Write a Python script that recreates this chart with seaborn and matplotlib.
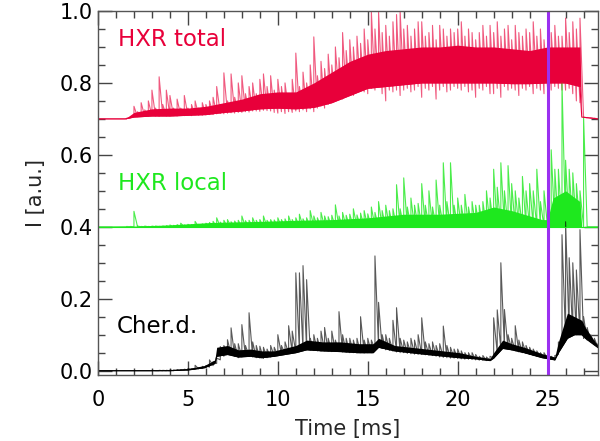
import numpy as np
import seaborn as sns
import matplotlib.pyplot as plt
from matplotlib.ticker import MultipleLocator

# Tiempos de los bins (0.2 ms) en los que se leen máximos/mínimos de cada señal
t_bins = np.round(np.arange(0, 27.81, 0.2), 1)

# HXR total: máximos y mínimos por bin
tot_max = [0.700, 0.700, 0.700, 0.700, 0.700, 0.700, 0.700, 0.700, 0.702, 0.705,
           0.735, 0.720, 0.745, 0.725, 0.750, 0.780, 0.730, 0.817, 0.740, 0.780,
           0.765, 0.730, 0.755, 0.730, 0.765, 0.730, 0.740, 0.750, 0.730, 0.745,
           0.740, 0.750, 0.760, 0.790, 0.740, 0.828, 0.750, 0.825, 0.760, 0.800,
           0.820, 0.770, 0.790, 0.800, 0.770, 0.810, 0.825, 0.790, 0.820, 0.780,
           0.810, 0.790, 0.800, 0.770, 0.810, 0.883, 0.790, 0.830, 0.800, 0.850,
           0.928, 0.820, 0.860, 0.840, 0.880, 0.850, 0.900, 0.870, 0.940, 0.890,
           0.920, 0.900, 0.930, 0.910, 0.950, 0.920, 1.000, 0.950, 1.000, 0.940,
           0.960, 0.930, 0.970, 0.990, 1.000, 0.950, 0.960, 0.930, 0.950, 0.970,
           0.970, 0.930, 0.940, 0.960, 0.920, 0.960, 0.950, 0.930, 0.950, 0.940,
           0.950, 0.970, 0.930, 0.950, 0.940, 0.920, 0.940, 0.960, 0.930, 0.960,
           0.940, 0.970, 0.930, 0.950, 0.960, 0.920, 0.960, 0.940, 0.930, 0.950,
           0.940, 0.970, 0.930, 0.950, 0.920, 0.960, 0.940, 0.960, 0.930, 0.930,
           0.980, 0.940, 0.970, 0.950, 0.980, 0.705, 0.704, 0.703, 0.702, 0.700]
tot_min = [0.700, 0.700, 0.700, 0.700, 0.700, 0.700, 0.700, 0.700, 0.700, 0.703,
           0.708, 0.706, 0.708, 0.707, 0.708, 0.709, 0.708, 0.707, 0.709, 0.708,
           0.708, 0.709, 0.708, 0.710, 0.709, 0.710, 0.709, 0.711, 0.710, 0.710,
           0.711, 0.712, 0.712, 0.714, 0.715, 0.714, 0.716, 0.717, 0.716, 0.718,
           0.718, 0.720, 0.719, 0.722, 0.722, 0.721, 0.724, 0.723, 0.722, 0.718,
           0.716, 0.720, 0.715, 0.720, 0.718, 0.722, 0.720, 0.725, 0.720, 0.728,
           0.720, 0.730, 0.735, 0.730, 0.740, 0.745, 0.750, 0.760, 0.755, 0.765,
           0.770, 0.765, 0.775, 0.780, 0.775, 0.770, 0.785, 0.780, 0.790, 0.770,
           0.750, 0.780, 0.775, 0.780, 0.765, 0.780, 0.785, 0.775, 0.780, 0.790,
           0.760, 0.785, 0.780, 0.790, 0.755, 0.780, 0.790, 0.775, 0.780, 0.790,
           0.785, 0.780, 0.790, 0.775, 0.780, 0.760, 0.785, 0.780, 0.790, 0.770,
           0.770, 0.785, 0.760, 0.790, 0.780, 0.785, 0.780, 0.765, 0.785, 0.780,
           0.790, 0.770, 0.785, 0.780, 0.770, 0.785, 0.780, 0.790, 0.785, 0.780,
           0.780, 0.785, 0.770, 0.750, 0.745, 0.705, 0.703, 0.702, 0.701, 0.700]
# HXR total: núcleo denso (tiempo, inferior, superior)
t_tot = [0, 1.5, 2, 3, 4, 5, 6, 7, 8, 9, 10, 11, 12, 13, 14, 15, 16, 17, 18, 19, 20,
         21, 22, 23, 24, 25, 26, 26.8, 26.9, 27.8]
lo_tot = [0.700, 0.700, 0.705, 0.708, 0.708, 0.710, 0.712, 0.718, 0.722, 0.728, 0.730,
          0.728, 0.732, 0.745, 0.765, 0.785, 0.790, 0.795, 0.800, 0.800, 0.800, 0.800,
          0.800, 0.798, 0.798, 0.800, 0.800, 0.790, 0.705, 0.700]
hi_tot = [0.700, 0.700, 0.718, 0.728, 0.730, 0.730, 0.735, 0.745, 0.755, 0.770, 0.775,
          0.775, 0.800, 0.830, 0.860, 0.880, 0.890, 0.895, 0.900, 0.900, 0.905, 0.900,
          0.900, 0.895, 0.890, 0.900, 0.900, 0.900, 0.705, 0.700]

# HXR local
loc_base = 0.40
loc_max = [0.400, 0.400, 0.400, 0.400, 0.400, 0.400, 0.400, 0.400, 0.401, 0.401,
           0.443, 0.402, 0.401, 0.402, 0.401, 0.402, 0.402, 0.401, 0.402, 0.403,
           0.405, 0.404, 0.406, 0.410, 0.405, 0.407, 0.406, 0.415, 0.407, 0.408,
           0.410, 0.412, 0.415, 0.425, 0.413, 0.418, 0.420, 0.414, 0.416, 0.418,
           0.430, 0.417, 0.418, 0.425, 0.418, 0.420, 0.430, 0.418, 0.420, 0.419,
           0.425, 0.420, 0.422, 0.430, 0.420, 0.425, 0.435, 0.422, 0.425, 0.445,
           0.430, 0.425, 0.440, 0.430, 0.428, 0.432, 0.461, 0.430, 0.440, 0.432,
           0.435, 0.450, 0.433, 0.438, 0.445, 0.436, 0.455, 0.440, 0.470, 0.445,
           0.460, 0.445, 0.450, 0.517, 0.450, 0.536, 0.455, 0.480, 0.460, 0.465,
           0.520, 0.460, 0.500, 0.455, 0.530, 0.460, 0.578, 0.470, 0.578, 0.460,
           0.480, 0.460, 0.490, 0.455, 0.470, 0.460, 0.460, 0.470, 0.500, 0.480,
           0.560, 0.510, 0.578, 0.500, 0.570, 0.520, 0.500, 0.480, 0.540, 0.500,
           0.520, 0.500, 0.560, 0.470, 0.500, 0.440, 0.614, 0.560, 0.560, 0.800,
           0.585, 0.560, 0.550, 0.520, 0.500, 0.705, 0.400, 0.400, 0.400, 0.400]
t_loc = [0, 2.0, 3.9, 6.3, 9, 11, 13, 15, 17, 19, 21, 22, 23, 24.7, 25.0, 25.3, 26.0,
         26.8, 26.9, 27.8]
hi_loc = [0.400, 0.402, 0.405, 0.412, 0.415, 0.418, 0.420, 0.425, 0.435, 0.435, 0.440,
          0.455, 0.445, 0.420, 0.420, 0.480, 0.500, 0.470, 0.400, 0.400]

# Cher.d.
ch_max = [0.000, 0.000, 0.000, 0.000, 0.000, 0.000, 0.000, 0.000, 0.000, 0.000,
          0.000, 0.000, 0.000, 0.000, 0.000, 0.001, 0.000, 0.001, 0.001, 0.001,
          0.002, 0.002, 0.003, 0.003, 0.004, 0.006, 0.005, 0.015, 0.008, 0.012,
          0.014, 0.030, 0.025, 0.035, 0.067, 0.070, 0.086, 0.119, 0.075, 0.075,
          0.128, 0.070, 0.161, 0.080, 0.070, 0.068, 0.065, 0.060, 0.070, 0.065,
          0.100, 0.070, 0.080, 0.125, 0.110, 0.272, 0.272, 0.292, 0.253, 0.090,
          0.100, 0.090, 0.110, 0.120, 0.090, 0.110, 0.085, 0.164, 0.100, 0.090,
          0.090, 0.085, 0.090, 0.150, 0.085, 0.090, 0.085, 0.319, 0.190, 0.100,
          0.100, 0.090, 0.140, 0.175, 0.090, 0.085, 0.080, 0.090, 0.085, 0.100,
          0.147, 0.080, 0.075, 0.080, 0.070, 0.075, 0.124, 0.070, 0.065, 0.060,
          0.060, 0.055, 0.050, 0.050, 0.050, 0.045, 0.040, 0.042, 0.038, 0.040,
          0.147, 0.169, 0.300, 0.170, 0.100, 0.090, 0.125, 0.085, 0.080, 0.070,
          0.065, 0.060, 0.055, 0.050, 0.050, 0.045, 0.040, 0.042, 0.080, 0.378,
          0.414, 0.314, 0.300, 0.280, 0.392, 0.150, 0.120, 0.100, 0.090, 0.075]
ch_min = [0.000, 0.000, 0.000, 0.000, 0.000, 0.000, 0.000, 0.000, 0.000, 0.000,
          0.000, 0.000, 0.000, 0.000, 0.000, 0.000, 0.000, 0.000, 0.000, 0.000,
          0.000, 0.000, 0.001, 0.001, 0.002, 0.002, 0.003, 0.004, 0.005, 0.006,
          0.008, 0.010, 0.014, 0.020, 0.030, 0.040, 0.045, 0.045, 0.040, 0.036,
          0.038, 0.040, 0.040, 0.038, 0.036, 0.035, 0.034, 0.036, 0.038, 0.040,
          0.042, 0.045, 0.046, 0.048, 0.050, 0.052, 0.055, 0.056, 0.058, 0.057,
          0.056, 0.055, 0.054, 0.055, 0.054, 0.053, 0.054, 0.053, 0.052, 0.051,
          0.050, 0.050, 0.049, 0.050, 0.049, 0.050, 0.050, 0.060, 0.065, 0.062,
          0.058, 0.056, 0.054, 0.052, 0.050, 0.050, 0.048, 0.047, 0.046, 0.045,
          0.045, 0.044, 0.043, 0.042, 0.040, 0.038, 0.037, 0.036, 0.035, 0.035,
          0.034, 0.033, 0.032, 0.032, 0.031, 0.030, 0.029, 0.029, 0.028, 0.028,
          0.035, 0.050, 0.060, 0.062, 0.060, 0.058, 0.055, 0.052, 0.050, 0.048,
          0.045, 0.042, 0.040, 0.038, 0.036, 0.034, 0.032, 0.030, 0.045, 0.070,
          0.090, 0.100, 0.100, 0.100, 0.100, 0.090, 0.085, 0.080, 0.072, 0.064]
t_ch = [0, 4, 5, 5.9, 6.5, 6.6, 7.2, 7.8, 8.5, 9.1, 9.8, 11.0, 11.6, 12.5, 13.5, 14.5,
        15.3, 15.6, 16.5, 18.3, 20.1, 21.0, 21.8, 22.0, 22.5, 23.0, 23.7, 24.7, 25.4,
        25.6, 26.1, 26.5, 26.9, 27.1, 27.5, 27.8]
lo_ch = [0.0, 0.0, 0.002, 0.008, 0.02, 0.04, 0.045, 0.038, 0.04, 0.036, 0.04, 0.05,
         0.058, 0.055, 0.053, 0.05, 0.05, 0.065, 0.055, 0.045, 0.036, 0.033, 0.028, 0.035,
         0.062, 0.058, 0.05, 0.036, 0.03, 0.05, 0.09, 0.10, 0.10, 0.09, 0.075, 0.064]
hi_ch = [0.0, 0.002, 0.006, 0.014, 0.03, 0.065, 0.07, 0.058, 0.06, 0.055, 0.055, 0.07,
         0.085, 0.08, 0.08, 0.075, 0.075, 0.09, 0.07, 0.06, 0.05, 0.04, 0.034, 0.05,
         0.085, 0.075, 0.065, 0.047, 0.038, 0.08, 0.16, 0.15, 0.14, 0.12, 0.09, 0.07]

t_marca = 25.0

c_tot = "#e8003a"
c_loc = "#1ee81e"
c_ch = "black"

sns.set_style("ticks")
plt.rcParams["font.family"] = ["DejaVu Sans"]
plt.rcParams["font.size"] = 15

fig = plt.figure(figsize=(6, 4.41), dpi=100)
ax = fig.add_axes([0.1633, 0.1497, 0.8333, 0.8254])


def senal(vmin, vmax, col, alpha):
    # traza min->max en cada bin (como una señal decimada)
    tt = np.repeat(t_bins, 2)
    yy = np.column_stack([np.broadcast_to(vmin, len(t_bins)), vmax]).ravel()
    ax.plot(tt, yy, color=col, lw=0.8, alpha=alpha)


senal(tot_min, tot_max, c_tot, 0.65)
senal(loc_base, loc_max, c_loc, 0.8)
senal(ch_min, ch_max, c_ch, 0.65)

for t, lo, hi, col in [(t_tot, lo_tot, hi_tot, c_tot),
                       (t_loc, [loc_base] * len(t_loc), hi_loc, c_loc),
                       (t_ch, lo_ch, hi_ch, c_ch)]:
    ax.fill_between(t, lo, hi, color=col, lw=0)
    sns.lineplot(x=t, y=lo, color=col, lw=0.8, ax=ax)

ax.axvline(t_marca, color="#9b30f0", lw=2.2)

ax.text(1.1, 0.92, "HXR total", color=c_tot, fontsize=16.5, va="center")
ax.text(1.1, 0.52, "HXR local", color=c_loc, fontsize=16.5, va="center")
ax.text(1.05, 0.122, "Cher.d.", color=c_ch, fontsize=16.5, va="center")

ax.set_xlim(0, 27.8)
ax.set_ylim(-0.012, 1.0)
ax.xaxis.set_major_locator(MultipleLocator(5))
ax.xaxis.set_minor_locator(MultipleLocator(1))
ax.yaxis.set_minor_locator(MultipleLocator(0.05))
ax.set_yticks([0, 0.2, 0.4, 0.6, 0.8, 1.0])
ax.set_yticklabels(["0.0", "0.2", "0.4", "0.6", "0.8", "1.0"])
ax.tick_params(which="both", direction="in", top=True, right=True, colors="#444444",
               labelcolor="black", labelsize=15)
ax.tick_params(which="major", length=10, width=1)
ax.tick_params(which="minor", length=5, width=1)
ax.tick_params(axis="x", which="major", pad=11)
for s in ax.spines.values():
    s.set_color("#555555")
    s.set_linewidth(1)

ax.set_xlabel("Time [ms]", fontsize=15, labelpad=6)
ax.set_ylabel("I [a.u.]", fontsize=15, labelpad=10)

fig.savefig("out.png", dpi=100)
